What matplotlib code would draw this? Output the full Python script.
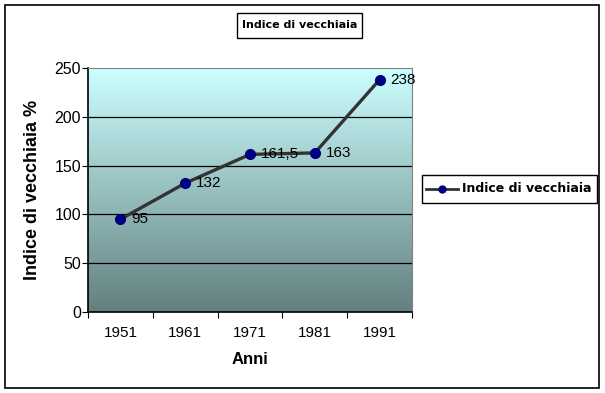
import numpy as np
import matplotlib.pyplot as plt
from matplotlib.patches import Rectangle
from matplotlib.colors import LinearSegmentedColormap
from matplotlib.lines import Line2D

# dati
anni = ['1951', '1961', '1971', '1981', '1991']
valori = [95, 132, 161.5, 163, 238]
etichette = ['95', '132', '161,5', '163', '238']

plt.rcParams['font.family'] = ['Liberation Sans', 'DejaVu Sans']

fig = plt.figure(figsize=(6.05, 3.93), dpi=100)
ax = fig.add_axes([88/605, 1 - 312/393, 324/605, 244/393])

x = np.arange(len(anni))

# sfondo sfumato
cmap = LinearSegmentedColormap.from_list('grad', ['#638080', '#ccffff'])
grad = np.linspace(0, 1, 256).reshape(-1, 1)
ax.imshow(grad, cmap=cmap, aspect='auto', origin='lower',
          extent=[-0.5, 4.5, 0, 250], zorder=0)

for y in [50, 100, 150, 200]:
    ax.axhline(y, color='black', lw=0.9, zorder=1)

ax.plot(x, valori, color='#333333', lw=2.4, marker='o', markersize=7,
        markerfacecolor='#000080', markeredgecolor='#000080', zorder=3)

for xi, v, t in zip(x, valori, etichette):
    ax.annotate(t, (xi, v), xytext=(8, 0), textcoords='offset points',
                va='center', ha='left', fontsize=11, zorder=4)

ax.set_xlim(-0.5, 4.5)
ax.set_ylim(0, 250)
ax.set_yticks(range(0, 251, 50))
ax.set_xticks(np.arange(-0.5, 5, 1))
ax.set_xticklabels([])
ax.set_xticks(x, minor=True)
ax.set_xticklabels(anni, minor=True)
ax.tick_params(axis='x', which='minor', length=0, pad=10, labelsize=11)
ax.tick_params(axis='x', which='major', direction='out', length=4, color='black')
ax.tick_params(axis='y', direction='out', length=4, labelsize=11.5, pad=1)

ax.spines['top'].set_color('#808080')
ax.spines['right'].set_color('#808080')
ax.spines['left'].set_linewidth(1.2)
ax.spines['bottom'].set_linewidth(1.2)

ax.set_xlabel('Anni', fontsize=12, fontweight='bold', labelpad=9)
ax.set_ylabel('Indice di vecchiaia %', fontsize=13, fontweight='bold', labelpad=10)

# titolo in riquadro
fig.patches.append(Rectangle((237/605, 1 - 38/393), 125/605, 25/393, transform=fig.transFigure,
                             fill=True, fc='white', ec='black', lw=1))
fig.text(300/605, 1 - 25.5/393, 'Indice di vecchiaia', ha='center', va='center',
         fontsize=8, fontweight='bold', family='DejaVu Sans')

# legenda
fig.patches.append(Rectangle((422/605, 1 - 203/393), 175/605, 28/393, transform=fig.transFigure,
                             fill=True, fc='white', ec='black', lw=1))
fig.add_artist(Line2D([426/605, 458/605], [1 - 189/393] * 2, transform=fig.transFigure,
                      color='#333333', lw=2, zorder=3))
fig.add_artist(Line2D([442/605], [1 - 189/393], transform=fig.transFigure,
                      marker='o', markersize=5, color='#000080', ls='none', zorder=4))
fig.text(462/605, 1 - 189/393, 'Indice di vecchiaia', ha='left', va='center',
         fontsize=9, fontweight='bold', family='DejaVu Sans')

# bordo esterno
fig.patches.append(Rectangle((5/605, 5/393), 594/605, 383/393, transform=fig.transFigure,
                             fill=False, ec='black', lw=1.2))

fig.savefig('out.png', dpi=100)
